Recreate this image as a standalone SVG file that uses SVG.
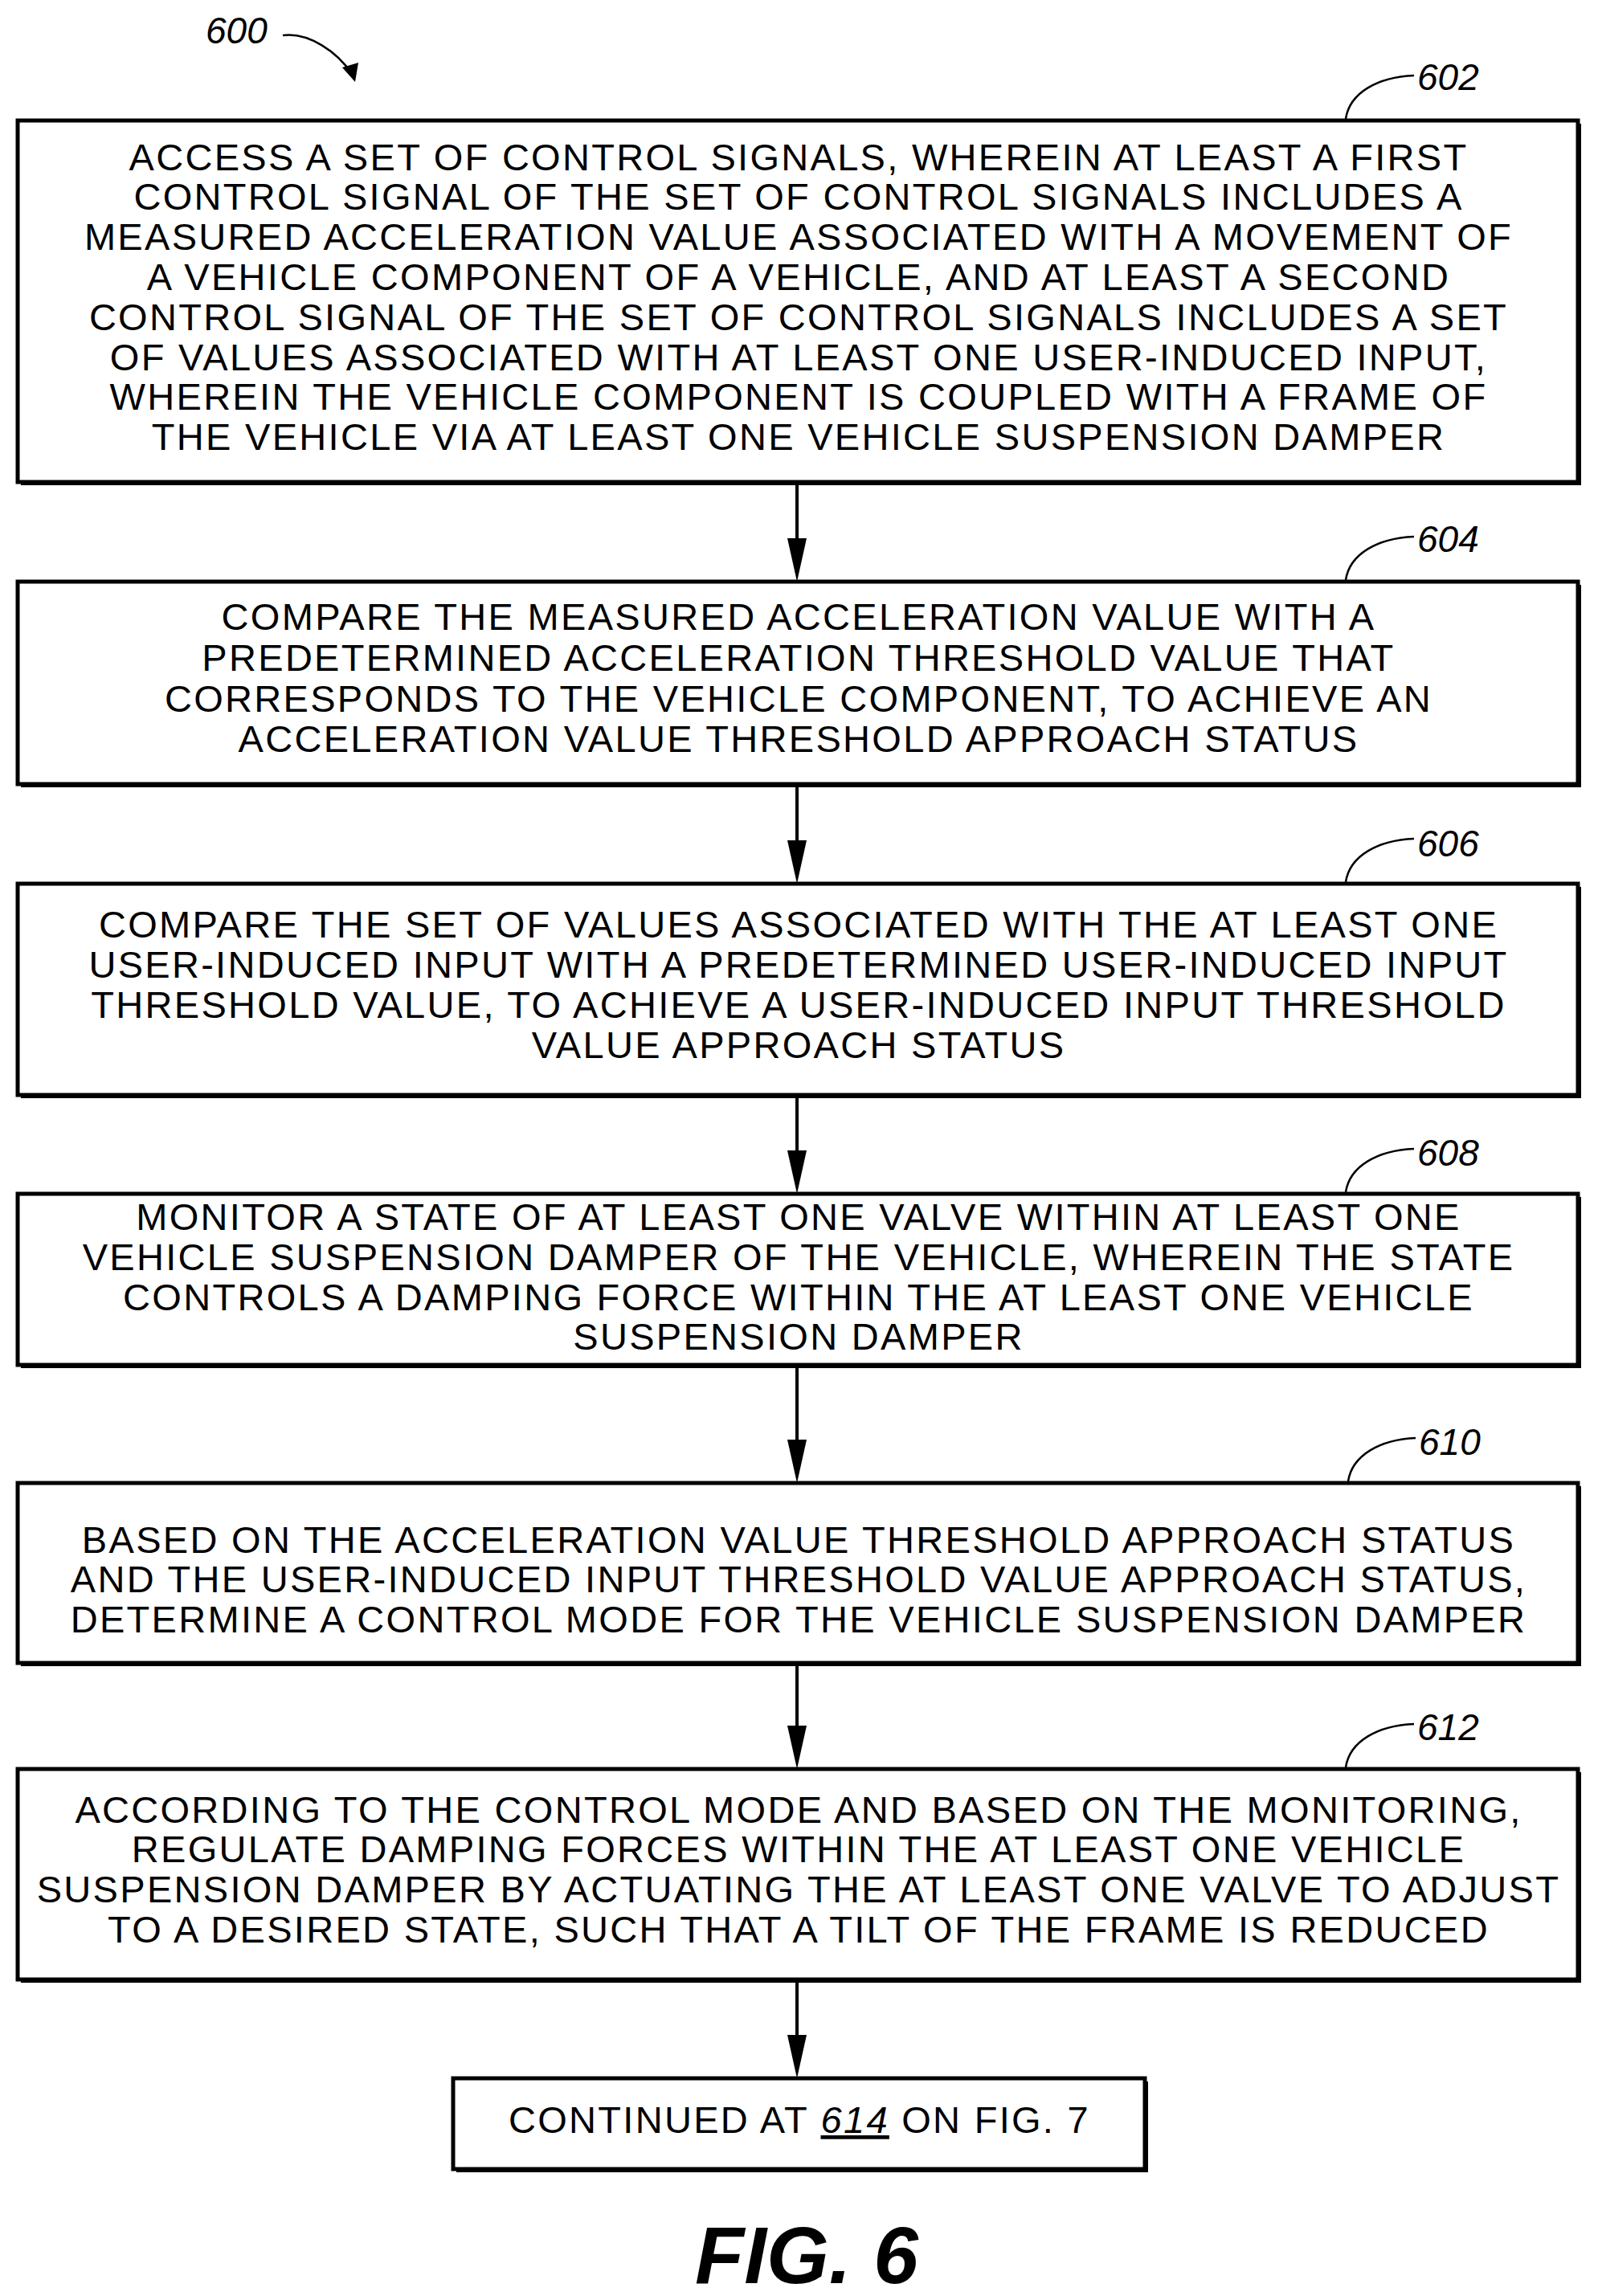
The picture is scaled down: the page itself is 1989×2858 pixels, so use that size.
<svg xmlns="http://www.w3.org/2000/svg" width="1989" height="2858" viewBox="0 0 1989 2858">
<style>
.box{fill:#fff;stroke:#000;stroke-width:5}
.sh{fill:#000}
.t{font-family:"Liberation Sans",Arial,sans-serif;font-size:47px;letter-spacing:2.3px;text-anchor:middle;fill:#000}
.lbl{font-family:"Liberation Sans",Arial,sans-serif;font-size:46px;font-style:italic;fill:#000}
.ld{fill:none;stroke:#000;stroke-width:2.5}
.c{stroke:#000;stroke-width:4;fill:none}
.ah{fill:#000}
</style>
<g id="ref600">
<text class="lbl" x="256" y="54">600</text>
<path d="M352,44 C385,40 420,65 438,92" class="ld"/>
<path d="M442,102 L426,84 L446,78 Z" fill="#000"/>
</g>
<g id="connectors">
<line class="c" x1="992" y1="603" x2="992" y2="680"/>
<path class="ah" d="M980,670 L1004,670 L992,724 Z"/>
<line class="c" x1="992" y1="980" x2="992" y2="1056"/>
<path class="ah" d="M980,1046 L1004,1046 L992,1100 Z"/>
<line class="c" x1="992" y1="1367" x2="992" y2="1442"/>
<path class="ah" d="M980,1432 L1004,1432 L992,1486 Z"/>
<line class="c" x1="992" y1="1703" x2="992" y2="1802"/>
<path class="ah" d="M980,1792 L1004,1792 L992,1846 Z"/>
<line class="c" x1="992" y1="2074" x2="992" y2="2158"/>
<path class="ah" d="M980,2148 L1004,2148 L992,2202 Z"/>
<line class="c" x1="992" y1="2468" x2="992" y2="2543"/>
<path class="ah" d="M980,2533 L1004,2533 L992,2587 Z"/>
</g>
<g id="n602">
<rect class="sh" x="26" y="154" width="1942" height="450"/>
<rect class="box" x="22" y="150" width="1942" height="450"/>
<path class="ld" d="M1675,148 C1680,115 1715,96 1760,94"/>
<text class="lbl" x="1764" y="112">602</text>
<text class="t" x="994" y="212">ACCESS A SET OF CONTROL SIGNALS, WHEREIN AT LEAST A FIRST</text>
<text class="t" x="994" y="261">CONTROL SIGNAL OF THE SET OF CONTROL SIGNALS INCLUDES A</text>
<text class="t" x="994" y="311">MEASURED ACCELERATION VALUE ASSOCIATED WITH A MOVEMENT OF</text>
<text class="t" x="994" y="361">A VEHICLE COMPONENT OF A VEHICLE, AND AT LEAST A SECOND</text>
<text class="t" x="994" y="411">CONTROL SIGNAL OF THE SET OF CONTROL SIGNALS INCLUDES A SET</text>
<text class="t" x="994" y="461">OF VALUES ASSOCIATED WITH AT LEAST ONE USER-INDUCED INPUT,</text>
<text class="t" x="994" y="510">WHEREIN THE VEHICLE COMPONENT IS COUPLED WITH A FRAME OF</text>
<text class="t" x="994" y="560">THE VEHICLE VIA AT LEAST ONE VEHICLE SUSPENSION DAMPER</text>
</g>
<g id="n604">
<rect class="sh" x="26" y="728" width="1942" height="252"/>
<rect class="box" x="22" y="724" width="1942" height="252"/>
<path class="ld" d="M1675,722 C1680,689 1715,670 1760,668"/>
<text class="lbl" x="1764" y="687">604</text>
<text class="t" x="994" y="784">COMPARE THE MEASURED ACCELERATION VALUE WITH A</text>
<text class="t" x="994" y="835">PREDETERMINED ACCELERATION THRESHOLD VALUE THAT</text>
<text class="t" x="994" y="886">CORRESPONDS TO THE VEHICLE COMPONENT, TO ACHIEVE AN</text>
<text class="t" x="994" y="936">ACCELERATION VALUE THRESHOLD APPROACH STATUS</text>
</g>
<g id="n606">
<rect class="sh" x="26" y="1104" width="1942" height="263"/>
<rect class="box" x="22" y="1100" width="1942" height="263"/>
<path class="ld" d="M1675,1098 C1680,1065 1715,1046 1760,1044"/>
<text class="lbl" x="1764" y="1066">606</text>
<text class="t" x="994" y="1167">COMPARE THE SET OF VALUES ASSOCIATED WITH THE AT LEAST ONE</text>
<text class="t" x="994" y="1217">USER-INDUCED INPUT WITH A PREDETERMINED USER-INDUCED INPUT</text>
<text class="t" x="994" y="1267">THRESHOLD VALUE, TO ACHIEVE A USER-INDUCED INPUT THRESHOLD</text>
<text class="t" x="994" y="1317">VALUE APPROACH STATUS</text>
</g>
<g id="n608">
<rect class="sh" x="26" y="1490" width="1942" height="213"/>
<rect class="box" x="22" y="1486" width="1942" height="213"/>
<path class="ld" d="M1675,1484 C1680,1451 1715,1432 1760,1430"/>
<text class="lbl" x="1764" y="1451">608</text>
<text class="t" x="994" y="1531">MONITOR A STATE OF AT LEAST ONE VALVE WITHIN AT LEAST ONE</text>
<text class="t" x="994" y="1581">VEHICLE SUSPENSION DAMPER OF THE VEHICLE, WHEREIN THE STATE</text>
<text class="t" x="994" y="1631">CONTROLS A DAMPING FORCE WITHIN THE AT LEAST ONE VEHICLE</text>
<text class="t" x="994" y="1680">SUSPENSION DAMPER</text>
</g>
<g id="n610">
<rect class="sh" x="26" y="1850" width="1942" height="224"/>
<rect class="box" x="22" y="1846" width="1942" height="224"/>
<path class="ld" d="M1678,1844 C1683,1811 1718,1792 1762,1790"/>
<text class="lbl" x="1766" y="1811">610</text>
<text class="t" x="994" y="1933">BASED ON THE ACCELERATION VALUE THRESHOLD APPROACH STATUS</text>
<text class="t" x="994" y="1982">AND THE USER-INDUCED INPUT THRESHOLD VALUE APPROACH STATUS,</text>
<text class="t" x="994" y="2032">DETERMINE A CONTROL MODE FOR THE VEHICLE SUSPENSION DAMPER</text>
</g>
<g id="n612">
<rect class="sh" x="26" y="2206" width="1942" height="262"/>
<rect class="box" x="22" y="2202" width="1942" height="262"/>
<path class="ld" d="M1675,2200 C1680,2167 1715,2148 1760,2146"/>
<text class="lbl" x="1764" y="2166">612</text>
<text class="t" x="994" y="2269">ACCORDING TO THE CONTROL MODE AND BASED ON THE MONITORING,</text>
<text class="t" x="994" y="2318">REGULATE DAMPING FORCES WITHIN THE AT LEAST ONE VEHICLE</text>
<text class="t" x="994" y="2368">SUSPENSION DAMPER BY ACTUATING THE AT LEAST ONE VALVE TO ADJUST</text>
<text class="t" x="994" y="2418">TO A DESIRED STATE, SUCH THAT A TILT OF THE FRAME IS REDUCED</text>
</g>
<g id="n614">
<rect class="sh" x="568" y="2591" width="861" height="113"/>
<rect class="box" x="564" y="2587" width="861" height="113"/>
<text class="t" x="995" y="2655">CONTINUED AT <tspan font-style="italic" text-decoration="underline">614</tspan> ON FIG. 7</text>
</g>
<g id="fig">
<text x="1004" y="2842" font-family="Liberation Sans,Arial,sans-serif" font-size="100" font-weight="bold" font-style="italic" text-anchor="middle">FIG. 6</text>
</g>
</svg>
